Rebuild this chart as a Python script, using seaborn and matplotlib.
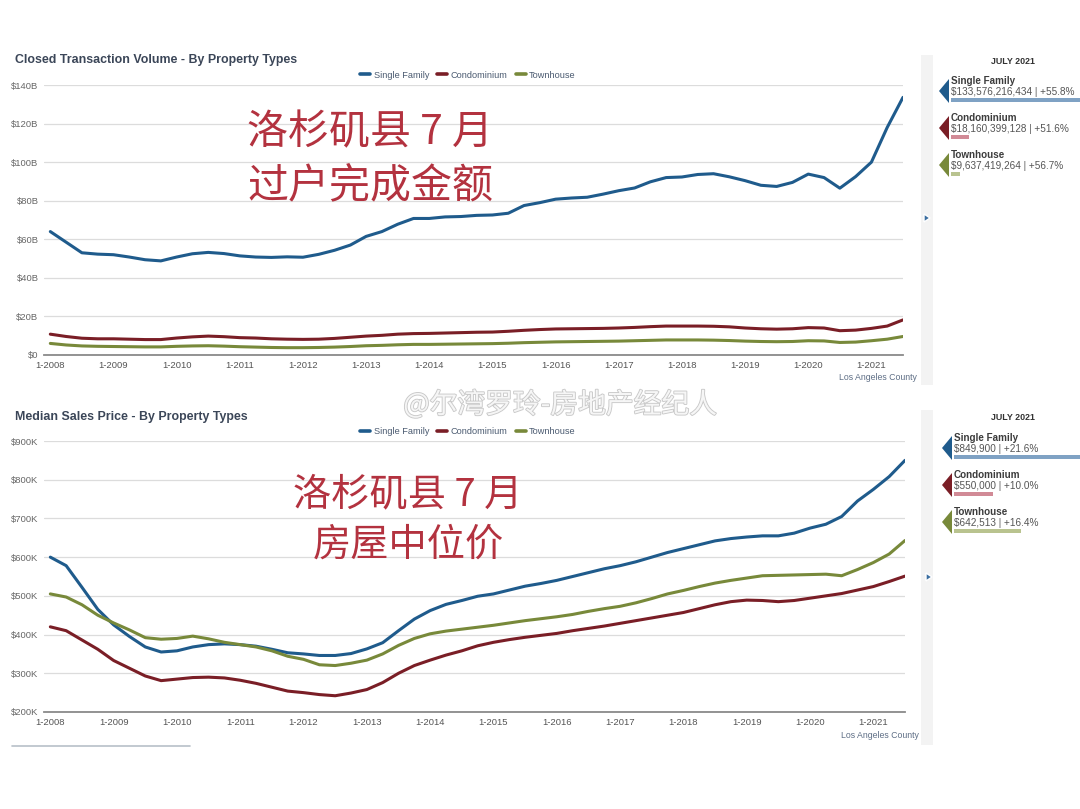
import numpy as np
import pandas as pd
import matplotlib
matplotlib.use("Agg")
import matplotlib.pyplot as plt
import matplotlib.patheffects as pe
import seaborn as sns
from matplotlib.patches import Polygon, Rectangle
from matplotlib.lines import Line2D

# ---------------- data (quarterly, Jan 2008 .. Jul 2021) ----------------
years = [2008 + 0.25 * i for i in range(55)]
types = ["Single Family", "Condominium", "Townhouse"]

vol_sf = [64.0, 58.5, 53.0, 52.3, 52.0, 50.8, 49.4, 48.8, 50.8, 52.5, 53.2, 52.6,
          51.4, 50.8, 50.6, 50.9, 50.7, 52.2, 54.3, 57.0, 61.5, 64.0, 67.8, 70.8,
          70.8, 71.6, 71.8, 72.4, 72.6, 73.5, 77.5, 79.0, 80.8, 81.4, 81.8, 83.4,
          85.2, 86.6, 89.8, 92.0, 92.3, 93.6, 94.0, 92.4, 90.4, 88.0, 87.4, 89.5,
          93.8, 92.0, 86.5, 92.5, 100.0, 118.0, 133.6]
vol_condo = [10.8, 9.6, 8.7, 8.4, 8.4, 8.2, 8.0, 8.0, 8.8, 9.4, 9.8, 9.5,
             9.0, 8.8, 8.4, 8.2, 8.1, 8.2, 8.6, 9.2, 9.8, 10.2, 10.8, 11.1,
             11.2, 11.4, 11.6, 11.8, 11.9, 12.3, 12.8, 13.2, 13.5, 13.6, 13.7, 13.8,
             14.0, 14.3, 14.7, 15.0, 15.0, 15.0, 14.9, 14.6, 14.0, 13.6, 13.4, 13.6,
             14.2, 14.0, 12.6, 12.9, 13.8, 15.0, 18.2]
vol_town = [6.0, 5.2, 4.7, 4.5, 4.4, 4.3, 4.2, 4.2, 4.5, 4.7, 4.8, 4.6,
            4.3, 4.1, 3.9, 3.8, 3.8, 3.9, 4.1, 4.4, 4.8, 5.0, 5.3, 5.5,
            5.5, 5.6, 5.7, 5.8, 5.9, 6.1, 6.4, 6.6, 6.8, 6.9, 7.0, 7.1,
            7.2, 7.4, 7.6, 7.8, 7.8, 7.8, 7.7, 7.5, 7.2, 7.0, 6.9, 7.0,
            7.4, 7.3, 6.5, 6.7, 7.4, 8.2, 9.6]

price_sf = [600, 578, 522, 465, 425, 395, 368, 355, 358, 368, 374, 376,
            374, 370, 362, 353, 350, 346, 346, 351, 363, 379, 410, 440,
            462, 478, 488, 499, 505, 515, 525, 532, 540, 550, 560, 570,
            578, 588, 600, 612, 622, 632, 642, 648, 652, 655, 655, 662,
            675, 685, 705, 745, 775, 808, 850]
price_condo = [420, 410, 386, 362, 333, 313, 293, 281, 285, 289, 290, 288,
               282, 274, 264, 254, 250, 245, 242, 249, 258, 276, 300, 320,
               334, 347, 358, 371, 380, 387, 393, 398, 403, 410, 416, 422,
               429, 436, 443, 450, 457, 467, 477, 485, 489, 488, 485, 488,
               494, 500, 506, 515, 524, 537, 551]
price_town = [505, 497, 477, 450, 430, 412, 392, 388, 390, 396, 389, 380,
              374, 368, 358, 344, 336, 322, 320, 326, 334, 350, 372, 390,
              402, 409, 414, 419, 424, 430, 436, 441, 446, 452, 460, 467,
              473, 482, 493, 505, 514, 524, 533, 540, 546, 552, 553, 554,
              555, 556, 552, 568, 586, 608, 643]

year_ticks = list(range(2008, 2022))
year_labels = [f"1-{y}" for y in year_ticks]
vol_ticks = [0, 20, 40, 60, 80, 100, 120, 140]
vol_labels = ["$0", "$20B", "$40B", "$60B", "$80B", "$100B", "$120B", "$140B"]
price_ticks = [200, 300, 400, 500, 600, 700, 800, 900]
price_labels = ["$200K", "$300K", "$400K", "$500K", "$600K", "$700K", "$800K", "$900K"]

side_vol_values = ["$133,576,216,434 | +55.8%", "$18,160,399,128 | +51.6%", "$9,637,419,264 | +56.7%"]
side_vol_raw = [133.58, 18.16, 9.64]
side_price_values = ["$849,900 | +21.6%", "$550,000 | +10.0%", "$642,513 | +16.4%"]
side_price_raw = [849.9, 550.0, 642.5]

colors = {"Single Family": "#1f5b8c", "Condominium": "#7a1e26", "Townhouse": "#78893a"}
light_colors = ["#7fa2c4", "#d18a96", "#b9c38f"]

# ---------------- style ----------------
sns.set_style("white")
plt.rcParams["font.family"] = ["Liberation Sans", "Noto Sans CJK SC", "DejaVu Sans"]

W, H = 1080, 809
fig = plt.figure(figsize=(W / 100, H / 100), dpi=100)
fig.patch.set_facecolor("white")


def fx(px):
    return px / W


def fy(py):
    return 1 - py / H


def make_df(a, b, c):
    rows = []
    for name, vals in zip(types, [a, b, c]):
        for yv, v in zip(years, vals):
            rows.append({"year": yv, "value": v, "type": name})
    return pd.DataFrame(rows)


def style_axes(ax, yticks, ylabels, ylim):
    ax.set_xlim(2007.9, 2021.5)
    ax.set_ylim(*ylim)
    ax.set_yticks(yticks)
    ax.set_yticklabels(ylabels)
    ax.set_xticks(year_ticks)
    ax.set_xticklabels(year_labels)
    ax.grid(axis="y", color="#dcdcdc", linewidth=0.9)
    ax.grid(axis="x", visible=False)
    for s in ["left", "right", "top"]:
        ax.spines[s].set_visible(False)
    ax.spines["bottom"].set_color("#8a8a8a")
    ax.spines["bottom"].set_linewidth(1.3)
    ax.tick_params(axis="x", direction="out", length=3, width=0.8, color="#8a8a8a",
                   labelsize=6.8, labelcolor="#555555", pad=1.5)
    ax.tick_params(axis="y", length=0, labelsize=6.8, labelcolor="#666666", pad=4)
    ax.set_xlabel("")
    ax.set_ylabel("")
    ax.set_facecolor("white")


def draw_legend(cx, cy):
    handles = [Line2D([0], [0], color=colors[t], lw=2.6) for t in types]
    fig.legend(handles, types, loc="center", bbox_to_anchor=(fx(cx), fy(cy)),
               ncol=3, frameon=False, fontsize=6.6, handlelength=1.1,
               handletextpad=0.35, columnspacing=0.9, labelcolor="#4a5a70")


# ---------------- top panel ----------------
ax1 = fig.add_axes([fx(44), fy(355), fx(903 - 44), (355 - 85) / H])
df1 = make_df(vol_sf, vol_condo, vol_town)
sns.lineplot(data=df1, x="year", y="value", hue="type", palette=colors, linewidth=2.2,
             ax=ax1, legend=False)
style_axes(ax1, vol_ticks, vol_labels, (0, 140))

# ---------------- bottom panel ----------------
ax2 = fig.add_axes([fx(44), fy(712), fx(905 - 44), (712 - 441) / H])
df2 = make_df(price_sf, price_condo, price_town)
sns.lineplot(data=df2, x="year", y="value", hue="type", palette=colors, linewidth=2.2,
             ax=ax2, legend=False)
style_axes(ax2, price_ticks, price_labels, (200, 900))

# titles / legends / notes
title_color = "#3b4658"
fig.text(fx(15), fy(60), "Closed Transaction Volume - By Property Types", fontsize=8.9,
         fontweight="bold", color=title_color, va="center", ha="left")
fig.text(fx(15), fy(417), "Median Sales Price - By Property Types", fontsize=8.9,
         fontweight="bold", color=title_color, va="center", ha="left")
draw_legend(468, 75)
draw_legend(468, 432)
fig.text(fx(878), fy(378), "Los Angeles County", fontsize=6.3, color="#5f6f86",
         ha="center", va="center")
fig.text(fx(880), fy(735), "Los Angeles County", fontsize=6.3, color="#5f6f86",
         ha="center", va="center")

# big red chinese annotations
red = "#b3323f"
cjk = ["Noto Sans CJK SC", "DejaVu Sans"]
fig.text(fx(370), fy(133), "洛杉矶县 7 月", fontsize=29.5, color=red, ha="center",
         va="center", family=cjk)
fig.text(fx(370), fy(186), "过户完成金额", fontsize=29.5, color=red, ha="center",
         va="center", family=cjk)
fig.text(fx(408), fy(495), "洛杉矶县 7 月", fontsize=27.5, color=red, ha="center",
         va="center", family=cjk)
fig.text(fx(408), fy(545), "房屋中位价", fontsize=27.5, color=red, ha="center",
         va="center", family=cjk)

# watermark
fig.text(fx(560), fy(405), "@尔湾罗玲-房地产经纪人", fontsize=20, color="#f6f6f6",
         ha="center", va="center", family=cjk,
         path_effects=[pe.Stroke(linewidth=1.3, foreground="#c9c9c9"), pe.Normal()])

# ---------------- overlay for side panels ----------------
ov = fig.add_axes([0, 0, 1, 1], zorder=-1)
ov.set_xlim(0, W)
ov.set_ylim(H, 0)
ov.axis("off")
ov.patch.set_alpha(0)

for y0, y1 in [(55, 385), (410, 745)]:
    ov.add_patch(Rectangle((921, y0), 12, y1 - y0, facecolor="#f3f3f3", edgecolor="none"))
ov.add_patch(Polygon([(924, 214), (924, 222), (930, 218)], closed=True, facecolor="#3b6ea0"))
ov.add_patch(Polygon([(926, 573), (926, 581), (932, 577)], closed=True, facecolor="#3b6ea0"))
ov.plot([12, 190], [746, 746], color="#b7c0c8", lw=1.2)


def side_panel(top, xt, values, raw, scale_fn, step):
    fig.text(fx(1013), fy(top), "JULY 2021", fontsize=6.4, fontweight="bold",
             color="#333333", ha="center", va="center")
    for i, t in enumerate(types):
        base = top + 20 + i * step
        ov.add_patch(Polygon([(xt - 12, base + 10), (xt - 2, base - 2), (xt - 2, base + 22)],
                             closed=True, facecolor=colors[t], edgecolor="none"))
        fig.text(fx(xt), fy(base), t, fontsize=7.1, fontweight="bold", color="#3c3c3c",
                 ha="left", va="center")
        fig.text(fx(xt), fy(base + 11), values[i], fontsize=7.2, color="#555555",
                 ha="left", va="center")
        L = scale_fn(raw[i])
        ov.add_patch(Rectangle((xt, base + 17), L, 3.5, facecolor=light_colors[i],
                               edgecolor="none"))


side_panel(61, 951, side_vol_values, side_vol_raw, lambda v: v / 133.58 * 130, 37)
side_panel(418, 954, side_price_values, side_price_raw, lambda v: (v - 420) / 430 * 130, 37)

fig.savefig("out.png", dpi=100, facecolor="white")
